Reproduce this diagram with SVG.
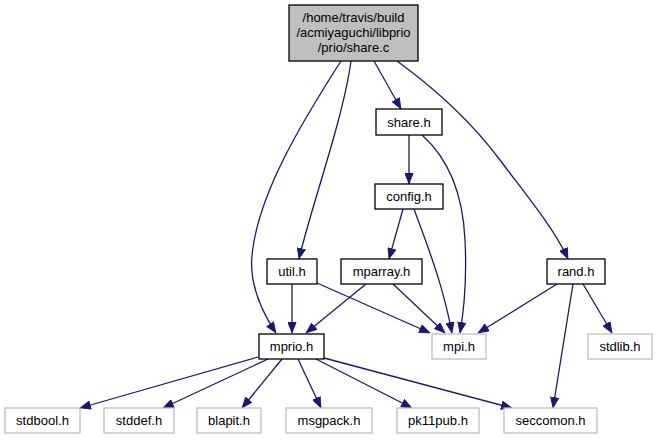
<svg xmlns="http://www.w3.org/2000/svg" width="657" height="440" viewBox="0 0 657 440">
<style>
.doc rect{fill:#ffffff;stroke:#000000;stroke-width:1.3}
.root rect{fill:#bfbfbf;stroke:#000000;stroke-width:1.3}
.ext rect{fill:#ffffff;stroke:#bfbfbf;stroke-width:1.3}
text{font-family:"Liberation Sans",Arial,sans-serif;font-size:13px;fill:#000000;text-anchor:middle}
#edges path{fill:none;stroke:#191970;stroke-width:1.3;marker-end:url(#arr)}
</style>
<defs>
<marker id="arr" viewBox="0 0 11 9" refX="11" refY="4.5" markerWidth="11" markerHeight="9" markerUnits="userSpaceOnUse" orient="auto">
<path d="M0.5,0.5 L10.5,4.5 L0.5,8.5 z" fill="#191970" stroke="#191970" stroke-width="1"/>
</marker>
</defs>
<rect width="657" height="440" fill="#ffffff"/>
<g id="edges">
<path d="M341,61 C300,125 258,195 252,255 C249,285 262,312 276,333"/>
<path d="M351,61 C343,120 310,210 299,259"/>
<path d="M374,61 L401,109"/>
<path d="M397,61 C430,85 470,120 500,160 C530,200 555,230 568,259"/>
<path d="M409,135 L409,184"/>
<path d="M422,135 C450,160 463,195 465,240 C467,280 464,310 460,333"/>
<path d="M403,209 L389,259"/>
<path d="M414,209 C425,240 442,280 452,333"/>
<path d="M292,284 L292,333"/>
<path d="M317,283 L430,333"/>
<path d="M366,284 L306,333"/>
<path d="M393,284 L445,333"/>
<path d="M557,284 L478,333"/>
<path d="M583,284 L612,333"/>
<path d="M573,284 L553,408"/>
<path d="M258,357 L80,408"/>
<path d="M268,359 L163,408"/>
<path d="M282,359 L242,408"/>
<path d="M298,359 L321,408"/>
<path d="M316,359 L412,408"/>
<path d="M324,358 L512,408"/>
</g>
<g id="node-root" class="root"><rect x="289" y="5" width="129" height="56"/><text x="353.5" y="22">/home/travis/build</text><text x="353.5" y="37">/acmiyaguchi/libprio</text><text x="353.5" y="52">/prio/share.c</text></g>
<g id="node-share" class="doc"><rect x="376" y="109" width="66" height="26"/><text x="409" y="126.5">share.h</text></g>
<g id="node-config" class="doc"><rect x="375" y="184" width="68" height="25"/><text x="409" y="201">config.h</text></g>
<g id="node-util" class="doc"><rect x="267" y="259" width="50" height="25"/><text x="292" y="276">util.h</text></g>
<g id="node-mparray" class="doc"><rect x="341" y="259" width="81" height="25"/><text x="381.5" y="276">mparray.h</text></g>
<g id="node-rand" class="doc"><rect x="547" y="259" width="58" height="25"/><text x="576" y="276">rand.h</text></g>
<g id="node-mprio" class="doc"><rect x="259" y="334" width="65" height="25"/><text x="291.5" y="351">mprio.h</text></g>
<g id="node-mpi" class="ext"><rect x="432" y="334" width="54" height="25"/><text x="459" y="351">mpi.h</text></g>
<g id="node-stdlib" class="ext"><rect x="588" y="334" width="64" height="25"/><text x="620" y="351">stdlib.h</text></g>
<g id="node-stdbool" class="ext"><rect x="5" y="408" width="75" height="25"/><text x="42.5" y="425">stdbool.h</text></g>
<g id="node-stddef" class="ext"><rect x="104" y="408" width="70" height="25"/><text x="139" y="425">stddef.h</text></g>
<g id="node-blapit" class="ext"><rect x="197" y="408" width="64" height="25"/><text x="229" y="425">blapit.h</text></g>
<g id="node-msgpack" class="ext"><rect x="286" y="408" width="86" height="25"/><text x="329" y="425">msgpack.h</text></g>
<g id="node-pk11pub" class="ext"><rect x="397" y="408" width="82" height="25"/><text x="438" y="425">pk11pub.h</text></g>
<g id="node-seccomon" class="ext"><rect x="504" y="408" width="93" height="25"/><text x="550.5" y="425">seccomon.h</text></g>
</svg>
